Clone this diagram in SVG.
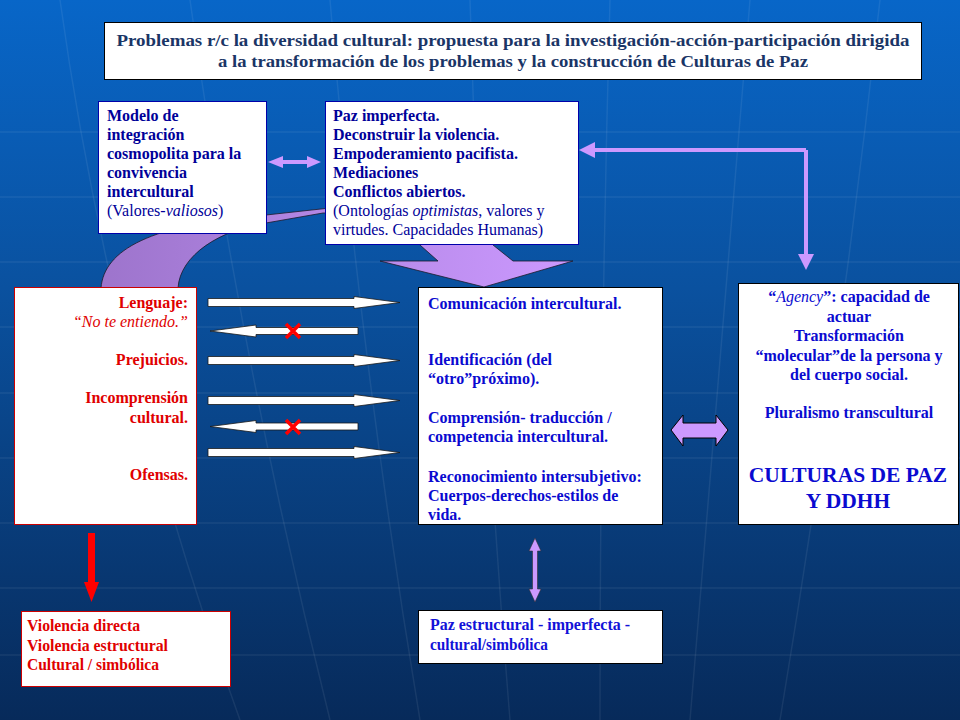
<svg xmlns="http://www.w3.org/2000/svg" width="960" height="720" viewBox="0 0 960 720" font-family="Liberation Serif, Times New Roman, serif">
<defs>
<linearGradient id="bg" x1="0" y1="0" x2="0" y2="1">
<stop offset="0" stop-color="#0866c8"/>
<stop offset="0.4" stop-color="#0a519f"/>
<stop offset="1" stop-color="#072a5a"/>
</linearGradient>
<linearGradient id="curve" x1="100" y1="0" x2="575" y2="0" gradientUnits="userSpaceOnUse">
<stop offset="0" stop-color="#9d74cc"/>
<stop offset="0.5" stop-color="#b488e6"/>
<stop offset="1" stop-color="#cc99ff"/>
</linearGradient>
<style>
text{font-family:'Liberation Serif','Times New Roman',serif}
.t{font-size:16px;font-weight:bold}
.n{font-weight:normal}
.i{font-style:italic;font-weight:normal}
.navy{fill:#000099}
.blue{fill:#0a0ad0}
.red{fill:#e00000}
.wa{fill:#fff;stroke:#1a1a1a;stroke-width:0.8}
.x{stroke:#ff0000;stroke-width:3.5;stroke-linecap:butt}
.grid{fill:none;stroke:#ffffff;stroke-opacity:0.07;stroke-width:1.5}
</style>
</defs>
<rect width="960" height="720" fill="url(#bg)"/>
<g class="grid">
<path d="M0 132H960M0 197H960M0 262H960M0 327H960M0 393H960M0 458H960M0 523H960M0 588H960M0 655H960"/>
<path d="M60 0Q110 360 240 720M190 0Q240 360 330 720M330 0Q360 360 420 720M470 0Q480 360 510 720M610 0Q600 360 600 720M750 0Q720 360 690 720M880 0Q840 360 780 720"/>
</g>
<g id="connectors">
<path d="M101 288C104 250 150 224 266 215L330 208C380 205 470 215 493 245L513 261L573 261L484 287L380 261L438 261L420 245C400 225 360 213 323 213L266 223C220 230 180 255 178 288Z" fill="url(#curve)" stroke="#1a1a2a" stroke-width="0.8"/>
<polygon points="268,162 283,156 283,160 307,160 307,156 321,162 307,168 307,164 283,164 283,168" fill="#cc99ff"/>
<path d="M806 150H592M806 150V256" stroke="#cc99ff" stroke-width="4" fill="none"/>
<polygon points="579,150 595,142 595,158" fill="#cc99ff"/>
<polygon points="806,270 798,254 814,254" fill="#cc99ff"/>
<polygon class="wa" points="208,298.5 354,298.5 354,296.5 400,302.5 354,308.5 354,306.5 208,306.5"/>
<polygon class="wa" points="358,327.5 256,327.5 256,325 210,331 256,337 256,334.5 358,334.5"/>
<polygon class="wa" points="208,356.5 354,356.5 354,354.5 400,360.5 354,366.5 354,364.5 208,364.5"/>
<polygon class="wa" points="208,396.5 354,396.5 354,394.5 400,400.5 354,406.5 354,404.5 208,404.5"/>
<polygon class="wa" points="358,423 256,423 256,420.5 210,426.5 256,432.5 256,430 358,430"/>
<polygon class="wa" points="208,448.5 354,448.5 354,446.5 400,452.5 354,458.5 354,456.5 208,456.5"/>
<path class="x" d="M286 324L300 338M300 324L286 338"/>
<path class="x" d="M286 420L300 434M300 420L286 434"/>
<polygon points="671,430 683,415 683,423 716,423 716,415 728,430 716,446 716,438 683,438 683,446" fill="#cc99ff" stroke="#000" stroke-width="1"/>
<polygon points="88,533 95,533 95,582 99,582 91.5,602 84,582 88,582" fill="#ff0000"/>
<polygon points="535,538 541,551 537.5,551 537.5,589 541,589 535,602 529,589 532.5,589 532.5,551 529,551" fill="#cc99ff" stroke="#333" stroke-width="0.6"/>
</g>
<g id="title">
<rect fill="#fff" x="104.5" y="22.5" width="817" height="57" stroke="#000" stroke-width="1"/>
<text class="t" x="513" y="46" text-anchor="middle" style="font-size:17px;fill:#1a3566" textLength="793" lengthAdjust="spacingAndGlyphs">Problemas r/c la diversidad cultural: propuesta para la  investigación-acción-participación  dirigida</text>
<text class="t" x="513" y="67" text-anchor="middle" style="font-size:17px;fill:#1a3566" textLength="590" lengthAdjust="spacingAndGlyphs">a la transformación de los problemas y la construcción de Culturas de Paz</text>
</g>
<g id="modelo">
<rect fill="#fff" x="98.5" y="101.5" width="168" height="132" stroke="#0000aa" stroke-width="1"/>
<text class="t navy" x="107" y="121">Modelo de</text>
<text class="t navy" x="107" y="140">integración</text>
<text class="t navy" x="107" y="159">cosmopolita para la</text>
<text class="t navy" x="107" y="177.5">convivencia</text>
<text class="t navy" x="107" y="196.5">intercultural</text>
<text class="t navy n" x="107" y="215.5">(Valores-<tspan class="i">valiosos</tspan>)</text>
</g>
<g id="paz-imperfecta">
<rect fill="#fff" x="325.5" y="101.5" width="253" height="143" stroke="#0000aa" stroke-width="1"/>
<text class="t navy" x="333" y="121">Paz imperfecta.</text>
<text class="t navy" x="333" y="140">Deconstruir la violencia.</text>
<text class="t navy" x="333" y="159">Empoderamiento pacifista.</text>
<text class="t navy" x="333" y="177.5">Mediaciones</text>
<text class="t navy" x="333" y="196.5">Conflictos abiertos.</text>
<text class="t navy n" x="333" y="215.5">(Ontologías <tspan class="i">optimistas</tspan>, valores y</text>
<text class="t navy n" x="333" y="234.5">virtudes. Capacidades Humanas)</text>
</g>
<g id="problemas">
<rect fill="#fff" x="14.5" y="287.5" width="182" height="237" stroke="#cc0000" stroke-width="1"/>
<text class="t red" text-anchor="end" x="188" y="308">Lenguaje:</text>
<text class="t red i" text-anchor="end" x="188" y="327">“No te entiendo.”</text>
<text class="t red" text-anchor="end" x="188" y="365">Prejuicios.</text>
<text class="t red" text-anchor="end" x="188" y="403">Incomprensión</text>
<text class="t red" text-anchor="end" x="188" y="423">cultural.</text>
<text class="t red" text-anchor="end" x="188" y="480">Ofensas.</text>
</g>
<g id="comunicacion">
<rect fill="#fff" x="418.5" y="287.5" width="244" height="237" stroke="#000" stroke-width="1"/>
<text class="t blue" x="428" y="309">Comunicación intercultural.</text>
<text class="t blue" x="428" y="365">Identificación (del</text>
<text class="t blue" x="428" y="384">“otro”próximo).</text>
<text class="t blue" x="428" y="423">Comprensión- traducción /</text>
<text class="t blue" x="428" y="442">competencia intercultural.</text>
<text class="t blue" x="428" y="482">Reconocimiento intersubjetivo:</text>
<text class="t blue" x="428" y="501">Cuerpos-derechos-estilos de</text>
<text class="t blue" x="428" y="520">vida.</text>
</g>
<g id="culturas-paz">
<rect fill="#fff" x="738.5" y="283.5" width="220" height="241" stroke="#000" stroke-width="1"/>
<text class="t blue" text-anchor="middle" x="849" y="302">“<tspan class="i">Agency</tspan>”: capacidad de</text>
<text class="t blue" text-anchor="middle" x="849" y="322">actuar</text>
<text class="t blue" text-anchor="middle" x="849" y="341">Transformación</text>
<text class="t blue" text-anchor="middle" x="849" y="361">“molecular”de la persona y</text>
<text class="t blue" text-anchor="middle" x="849" y="380">del cuerpo social.</text>
<text class="t blue" text-anchor="middle" x="849" y="418">Pluralismo transcultural</text>
<text class="t blue" text-anchor="middle" x="848" y="482" style="font-size:21.5px">CULTURAS DE PAZ</text>
<text class="t blue" text-anchor="middle" x="848" y="508" style="font-size:21.5px">Y DDHH</text>
</g>
<g id="violencia">
<rect fill="#fff" x="21.5" y="611.5" width="209" height="75" stroke="#cc0000" stroke-width="1"/>
<text class="t red" x="27" y="631" textLength="113" lengthAdjust="spacingAndGlyphs">Violencia directa</text>
<text class="t red" x="27" y="651" textLength="141" lengthAdjust="spacingAndGlyphs">Violencia estructural</text>
<text class="t red" x="27" y="670" textLength="132" lengthAdjust="spacingAndGlyphs">Cultural / simbólica</text>
</g>
<g id="paz-estructural">
<rect fill="#fff" x="418.5" y="610.5" width="244" height="53" stroke="#000" stroke-width="1"/>
<text class="t" style="fill:#1212d8" x="430" y="630" textLength="200" lengthAdjust="spacingAndGlyphs">Paz estructural - imperfecta -</text>
<text class="t" style="fill:#1212d8" x="430" y="650" textLength="118" lengthAdjust="spacingAndGlyphs">cultural/simbólica</text>
</g>
</svg>
